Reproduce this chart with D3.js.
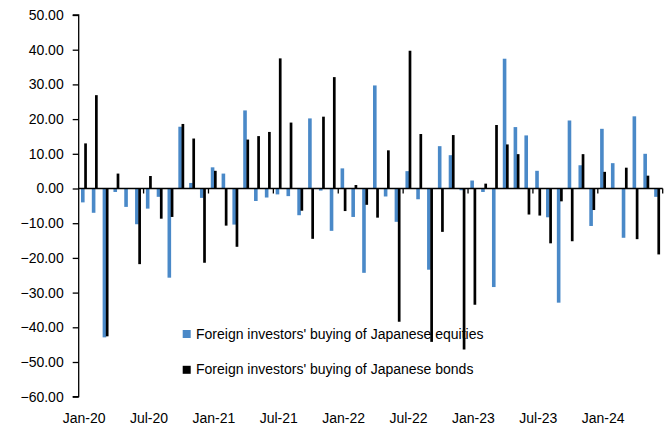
<!DOCTYPE html>
<html>
<head>
<meta charset="utf-8">
<script src="https://cdn.jsdelivr.net/npm/d3@7"></script>
<style>
  body { margin: 0; background: #fff; }
  svg { display: block; font-family: "Liberation Sans", Arial, sans-serif; }
</style>
</head>
<body>
<div id="container"></div>
<script>
// months Jan-20 .. Jun-24
const months = d3.timeMonths(new Date(2020, 0, 1), new Date(2024, 6, 1));

// Foreign investors' buying of Japanese equities
const equities = [
  -4.0, -7.0, -42.9, -1.0, -5.3, -10.3, -5.8, -2.4, -25.7, 17.8,
  1.6, -2.7, 6.1, 4.3, -10.4, 22.5, -3.6, -2.6, -1.7, -2.2,
  -7.7, 20.2, -0.6, -12.2, 5.8, -8.2, -24.3, 29.7, -2.3, -9.6,
  5.0, -3.1, -23.4, 12.2, 9.6, -0.5, 2.3, -1.0, -28.4, 37.4,
  17.7, 15.3, 5.1, -8.3, -32.9, 19.6, 6.7, -10.8, 17.2, 7.3,
  -14.2, 20.8, 10.0, -2.4
];

// Foreign investors' buying of Japanese bonds
const bonds = [
  13.0, 26.9, -42.6, 4.3, 0, -21.8, 3.6, -8.7, -8.2, 18.6,
  14.4, -21.4, 5.1, -10.7, -16.8, 14.1, 15.1, 16.3, 37.5, 19.0,
  -6.4, -14.5, 20.7, 32.1, -6.5, 1.0, -4.7, -8.4, 11.0, -38.4,
  39.7, 15.7, -44.2, -12.5, 15.4, -46.4, -33.5, 1.4, 18.3, 12.7,
  9.9, -7.5, -7.8, -15.8, -3.7, -15.2, 9.9, -6.2, 4.8, 0,
  6.0, -14.6, 3.7, -19.0
];

const yTicks = [50, 40, 30, 20, 10, 0, -10, -20, -30, -40, -50, -60];

const seriesNames = [
  "Foreign investors' buying of Japanese equities",
  "Foreign investors' buying of Japanese bonds"
];
const colors = ["#4a89c8", "#000000"];

const width = 666, height = 428;
const plot = { left: 78.7, right: 662.7, top: 15, bottom: 396.7 };

const svg = d3.select("#container")
  .append("svg")
  .attr("width", width)
  .attr("height", height);

const x = d3.scaleBand()
  .domain(months)
  .range([plot.left, plot.right])
  .padding(0);

const y = d3.scaleLinear()
  .domain([-60, 50])
  .range([plot.bottom, plot.top]);

const fmtMonth = d3.timeFormat("%b-%y");

// legend (drawn under the bars, like the original)
const legend = svg.append("g");
seriesNames.forEach((name, i) => {
  const ly = 338.5 + i * 35.8;
  legend.append("rect")
    .attr("x", 182.7).attr("y", ly - 8.5)
    .attr("width", 8).attr("height", 8)
    .attr("fill", colors[i]);
  legend.append("text")
    .attr("x", 196).attr("y", ly)
    .attr("font-size", 14)
    .attr("fill", "#000")
    .text(name);
});

// bars: blue slightly left, black overlapping on the right
const barSpec = [
  { data: equities, offset: 2.3, w: 3.6, color: colors[0] },
  { data: bonds, offset: 5.5, w: 2.7, color: colors[1] }
];

barSpec.forEach(s => {
  svg.append("g")
    .selectAll("rect")
    .data(months.map((m, i) => ({ m, v: s.data[i] })))
    .join("rect")
    .attr("x", d => x(d.m) + s.offset)
    .attr("width", s.w)
    .attr("y", d => y(Math.max(0, d.v)))
    .attr("height", d => Math.abs(y(d.v) - y(0)))
    .attr("fill", s.color);
});

// y axis
const yAxis = d3.axisLeft(y)
  .tickValues(yTicks)
  .tickSize(6)
  .tickPadding(9)
  .tickFormat(d3.format(".2f"));

svg.append("g")
  .attr("transform", `translate(${plot.left},0)`)
  .call(yAxis)
  .call(g => g.select(".domain").attr("stroke-width", 1.3).attr("d", `M-6,${plot.top}H0V${plot.bottom}H-6`))
  .call(g => g.selectAll(".tick line").attr("stroke-width", 1.3))
  .call(g => g.selectAll(".tick text")
    .attr("font-size", 14)
    .attr("font-family", "Liberation Sans, Arial, sans-serif")
    .attr("fill", "#000"));

// x axis line on zero with tick marks every 6 months (band boundaries)
const xAxisG = svg.append("g");
xAxisG.append("line")
  .attr("x1", plot.left).attr("x2", plot.right)
  .attr("y1", y(0)).attr("y2", y(0))
  .attr("stroke", "#000").attr("stroke-width", 1.3);

const tickMonths = months.filter(m => m.getMonth() % 6 === 0);
const tickXs = tickMonths.slice(1).map(m => x(m)).concat([plot.right]);
xAxisG.selectAll(".xtick")
  .data(tickXs)
  .join("line")
  .attr("class", "xtick")
  .attr("x1", d => d).attr("x2", d => d)
  .attr("y1", y(0)).attr("y2", y(0) + 5)
  .attr("stroke", "#000").attr("stroke-width", 1.3);

// x labels at bottom, centred on Jan/Jul bands
xAxisG.selectAll(".xlabel")
  .data(tickMonths)
  .join("text")
  .attr("class", "xlabel")
  .attr("x", d => x(d) + x.bandwidth() / 2)
  .attr("y", 423)
  .attr("text-anchor", "middle")
  .attr("font-size", 14)
  .attr("fill", "#000")
  .text(d => fmtMonth(d));
</script>
</body>
</html>
